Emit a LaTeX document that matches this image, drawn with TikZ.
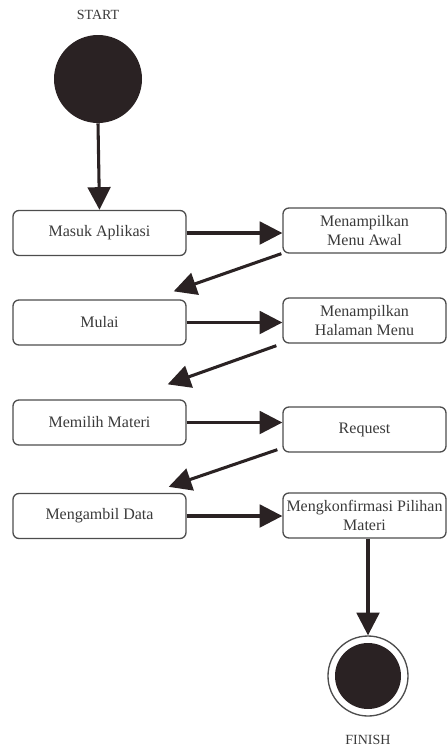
\documentclass[tikz,border=0pt]{standalone}
\usepackage{fontspec}
\setmainfont{Liberation Serif}
\usetikzlibrary{arrows.meta}
\definecolor{blob}{HTML}{2A2223}
\definecolor{rim}{HTML}{4D4D4D}
\definecolor{ink}{HTML}{3A3A3A}
\tikzset{
  act/.style={draw=rim,line width=1pt,rounded corners=4.5pt,minimum height=33.75pt,
    align=center,text=ink,font=\fontsize{12}{14}\selectfont,inner sep=1pt},
  actl/.style={act,minimum width=129.75pt},
  actr/.style={act,minimum width=122.25pt},
  flow/.style={-{Triangle[length=17pt,width=17pt]},line width=2.3pt,draw=blob},
  lbl/.style={text=ink,font=\fontsize{10.5}{12}\selectfont}
}
\begin{document}
\begin{tikzpicture}[x=0.75pt,y=-0.75pt,line join=round]
		\useasboundingbox (0,0) rectangle (447,747);
		% start
		\node[lbl] (st) at (98,15) {START};
		\node[circle,fill=blob,minimum size=66pt,inner sep=0pt] (start) at (98,79) {};
		% activities
		\node[actl] (masuk) at (99.5,233) {Masuk Aplikasi};
		\node[actr] (awal) at (364.5,230.5) {Menampilkan\\Menu Awal};
		\node[actl] (mulai) at (99.5,322.5) {Mulai};
		\node[actr] (halaman) at (364.5,320.5) {Menampilkan\\Halaman Menu};
		\node[actl] (pilih) at (99.5,422.5) {Memilih Materi};
		\node[actr] (request) at (364.5,429.5) {Request};
		\node[actl] (ambil) at (99.5,516) {Mengambil Data};
		\node[actr] (konfirm) at (364.5,515.5) {Mengkonfirmasi Pilihan\\Materi};
		% finish
		\node[circle,draw=rim,line width=1pt,minimum size=60pt,inner sep=0pt] (finish) at (368,676) {};
		\fill[blob] (finish.center) circle (24.75pt);
		\node[lbl] (fn) at (368,740) {FINISH};
		% flows
		\draw[flow] (start.south) -- (masuk.north);
		\draw[flow] (masuk.east) -- (awal.west|-masuk.east);
		\draw[flow] ([xshift=-0.75pt]awal.south west) -- ([xshift=-9.75pt,yshift=6pt]mulai.north east);
		\draw[flow] (mulai.east) -- (halaman.west|-mulai.east);
		\draw[flow] ([xshift=-4.5pt,yshift=-1.5pt]halaman.south west) -- ([xshift=-14.25pt,yshift=11.25pt]pilih.north east);
		\draw[flow] (pilih.east) -- (request.west|-pilih.east);
		\draw[flow] ([xshift=-3.75pt,yshift=2.25pt]request.south west) -- ([xshift=-13.5pt,yshift=4.5pt]ambil.north east);
		\draw[flow] (ambil.east) -- (konfirm.west|-ambil.east);
		\draw[flow] (konfirm.south-|finish.north) -- (finish.north);
\end{tikzpicture}
\end{document}
